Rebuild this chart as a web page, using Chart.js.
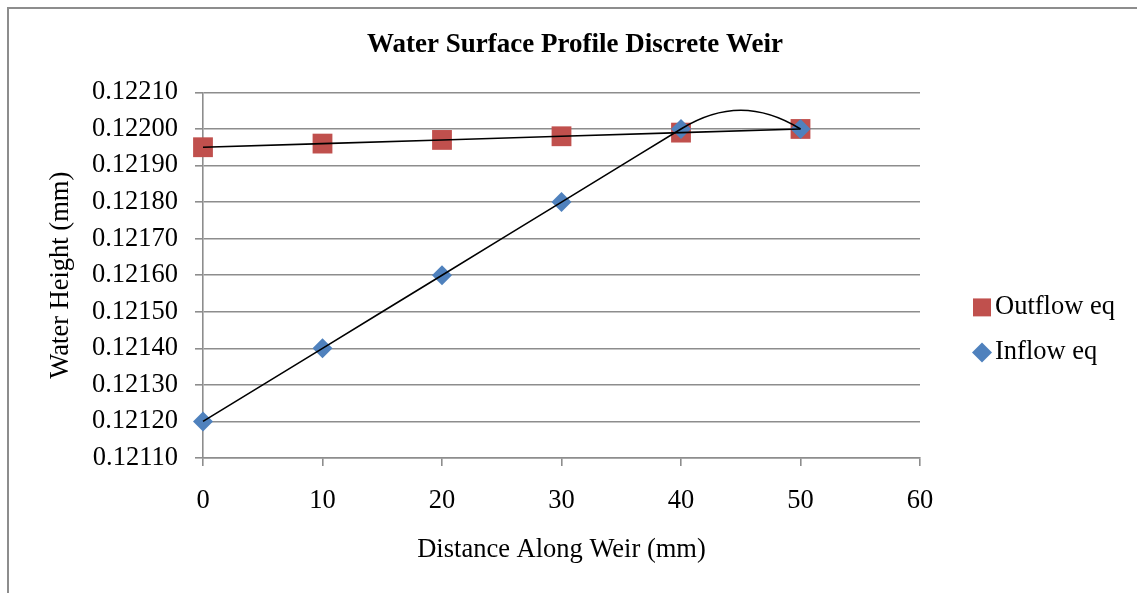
<!DOCTYPE html>
<html>
<head>
<meta charset="utf-8">
<script src="https://cdn.jsdelivr.net/npm/chart.js@4.4.1/dist/chart.umd.min.js"></script>
<style>
  html, body { margin: 0; padding: 0; background: #fff; }
  #wrap { position: relative; width: 1137px; height: 593px; overflow: hidden; }
  #frame { position: absolute; left: 7px; top: 7px; width: 1200px; height: 700px;
           border-left: 2px solid #8d8d8d; border-top: 2px solid #8d8d8d; }
  #weirChart { position: absolute; left: 0; top: 0; }
</style>
</head>
<body>
<div id="wrap">
  <div id="frame"></div>
  <canvas id="weirChart" width="1137" height="593"></canvas>
</div>
<script>
// Distance along the weir (mm)
const distance = [0, 10, 20, 30, 40, 50];
// Water height (mm) for each method
const outflowEq = [0.12195, 0.12196, 0.12197, 0.12198, 0.12199, 0.12200];
const inflowEq = [0.12120, 0.12140, 0.12160, 0.12180, 0.12200, 0.12200];
// Axis ticks
const xTicks = [0, 10, 20, 30, 40, 50, 60];
const yTicks = [0.1211, 0.1212, 0.1213, 0.1214, 0.1215, 0.1216, 0.1217, 0.1218, 0.1219, 0.1220, 0.1221];

const RED = '#C0504D';
const BLUE = '#4F81BD';
const GRID = '#8d8d8d';
const SMOOTH = 1.2;
const FONT = '"Liberation Serif", "Times New Roman", serif';

Chart.defaults.font.family = FONT;
Chart.defaults.font.size = 26.5;
Chart.defaults.color = '#000';

const toPoints = ys => distance.map((x, i) => ({ x: x, y: ys[i] }));

// smoothed line through the inflow points, drawn on top of the markers
const smoothCurve = {
  id: 'smoothCurve',
  afterDatasetsDraw(chart) {
    const sx = chart.scales.x, sy = chart.scales.y;
    const pts = distance.map((d, i) => ({ x: sx.getPixelForValue(d), y: sy.getPixelForValue(inflowEq[i]) }));
    const n = pts.length;
    const tan = [];
    for (let i = 1; i < n - 1; i++) {
      const a = pts[i - 1], b = pts[i], c = pts[i + 1];
      const dIn = Math.hypot(b.x - a.x, b.y - a.y);
      const dOut = Math.hypot(c.x - b.x, c.y - b.y);
      const k = SMOOTH * dOut / dIn;
      tan[i] = { x: (b.x - a.x) * k, y: (b.y - a.y) * k };
    }
    // end tangents: mirror the neighbour's tangent across the end chord
    const mirror = (t, p, q) => {
      const dx = q.x - p.x, dy = q.y - p.y, L = Math.hypot(dx, dy);
      const ux = dx / L, uy = dy / L, dot = t.x * ux + t.y * uy;
      return { x: 2 * dot * ux - t.x, y: 2 * dot * uy - t.y };
    };
    tan[0] = mirror(tan[1], pts[0], pts[1]);
    tan[n - 1] = mirror(tan[n - 2], pts[n - 2], pts[n - 1]);

    const ctx = chart.ctx;
    ctx.save();
    ctx.strokeStyle = '#000';
    ctx.lineWidth = 1.6;
    ctx.beginPath();
    ctx.moveTo(pts[0].x, pts[0].y);
    for (let i = 0; i < n - 1; i++) {
      const p = pts[i], q = pts[i + 1];
      ctx.bezierCurveTo(p.x + tan[i].x / 3, p.y + tan[i].y / 3,
                        q.x - tan[i + 1].x / 3, q.y - tan[i + 1].y / 3, q.x, q.y);
    }
    ctx.stroke();
    ctx.restore();
  }
};

// legend on the right, beside the plot
const sideLegend = {
  id: 'sideLegend',
  afterDraw(chart) {
    const ctx = chart.ctx;
    const area = chart.chartArea;
    const items = [
      { ds: chart.data.datasets[0], radius: 12.7, y: area.top + 215 },
      { ds: chart.data.datasets[1], radius: 10, y: area.top + 260 }
    ];
    ctx.save();
    items.forEach(it => {
      ctx.fillStyle = it.ds.backgroundColor;
      Chart.helpers.drawPoint(ctx, { pointStyle: it.ds.pointStyle, radius: it.radius, rotation: 0, borderWidth: 0 },
        area.right + 62, it.y);
      ctx.fillStyle = '#000';
      ctx.font = '26.5px ' + FONT;
      ctx.textBaseline = 'middle';
      ctx.textAlign = 'left';
      ctx.fillText(it.ds.label, area.right + 75, it.y);
    });
    ctx.restore();
  }
};

new Chart(document.getElementById('weirChart'), {
  type: 'scatter',
  data: {
    datasets: [
      {
        label: 'Outflow eq',
        data: toPoints(outflowEq),
        pointStyle: 'rect',
        pointRadius: 14,
        backgroundColor: RED,
        borderColor: RED,
        pointBorderWidth: 0,
        clip: false,
        order: 3
      },
      {
        label: 'Inflow eq',
        data: toPoints(inflowEq),
        pointStyle: 'rectRot',
        pointRadius: 10,
        backgroundColor: BLUE,
        borderColor: BLUE,
        pointBorderWidth: 0,
        clip: false,
        order: 2
      },
      {
        label: 'Outflow line',
        data: toPoints(outflowEq),
        showLine: true,
        pointRadius: 0,
        borderColor: '#000',
        borderWidth: 1.6,
        tension: 0,
        clip: false,
        order: 1
      }
    ]
  },
  options: {
    responsive: false,
    animation: false,
    events: [],
    layout: { padding: { left: 13, right: 0, top: 0, bottom: 0 } },
    plugins: {
      legend: { display: false },
      tooltip: { enabled: false },
      title: {
        display: true,
        text: 'Water Surface Profile Discrete Weir',
        font: { size: 27, weight: 'bold' },
        color: '#000',
        padding: { top: 29, bottom: 31 }
      }
    },
    scales: {
      x: {
        type: 'linear',
        min: xTicks[0],
        max: xTicks[xTicks.length - 1],
        afterBuildTicks: s => { s.ticks = xTicks.map(v => ({ value: v })); },
        afterFit: s => { s.height = 135; },
        ticks: { padding: 19, callback: v => String(v) },
        grid: { drawOnChartArea: false, drawTicks: true, tickLength: 8, color: GRID, lineWidth: 1.6 },
        border: { color: GRID, width: 1.6 },
        title: { display: true, text: 'Distance Along Weir (mm)', padding: { bottom: 27 } }
      },
      y: {
        type: 'linear',
        min: yTicks[0],
        max: yTicks[yTicks.length - 1],
        afterBuildTicks: s => { s.ticks = yTicks.map(v => ({ value: v })); },
        afterFit: s => { s.width = 190; },
        ticks: { padding: 17, callback: v => Number(v).toFixed(5) },
        grid: { color: GRID, lineWidth: 1.6, tickLength: 8 },
        border: { color: GRID, width: 1.6 },
        title: { display: true, text: 'Water Height (mm)', padding: { top: 32 } }
      },
      legendArea: {
        axis: 'y',
        position: 'right',
        display: true,
        ticks: { display: false },
        grid: { display: false },
        border: { display: false },
        afterFit: s => { s.width = 217; }
      }
    }
  },
  plugins: [smoothCurve, sideLegend]
});
</script>
</body>
</html>
